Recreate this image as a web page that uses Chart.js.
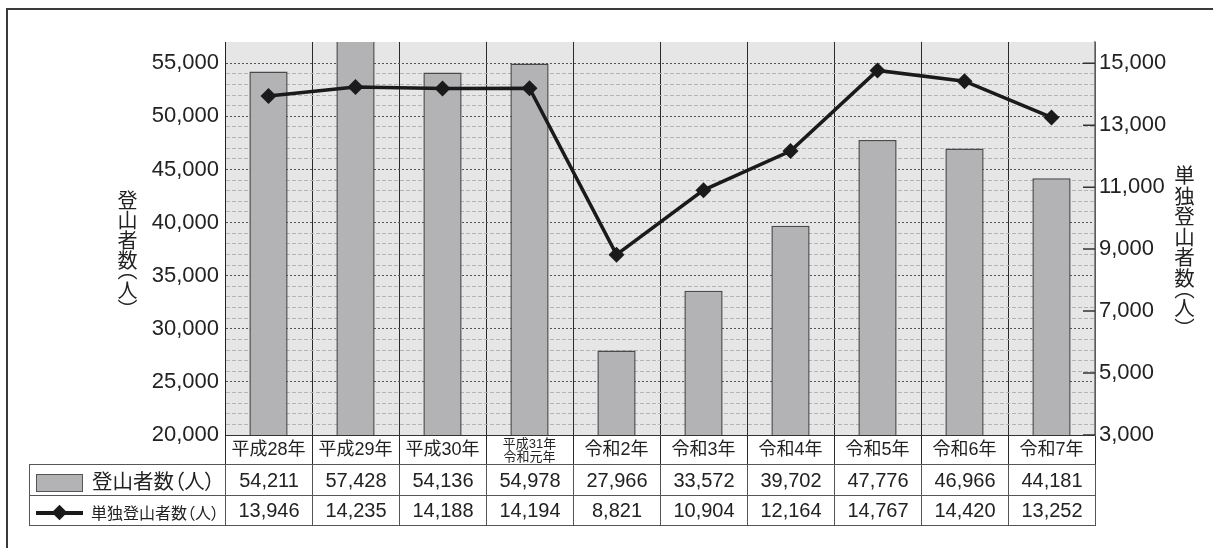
<!DOCTYPE html>
<html lang="ja">
<head>
<meta charset="utf-8">
<script src="https://cdn.jsdelivr.net/npm/chart.js@4/dist/chart.umd.min.js"></script>
<style>
  html, body { margin:0; padding:0; background:#fff; }
  #wrap { position:relative; width:1213px; height:548px; overflow:hidden; background:#fff; }
  #frame { position:absolute; left:6px; top:8px; width:1400px; height:700px; border-top:2px solid #3a3a3a; border-left:2px solid #3a3a3a; }
  #c { position:absolute; left:0; top:0; }
  .vt { position:absolute; writing-mode:vertical-rl; text-orientation:upright; font-family:"Noto Sans CJK JP"; font-size:20px; color:#222; line-height:1; font-feature-settings:"vpal"; white-space:nowrap; }
  #ltitle { left:117px; top:190px; }
  #rtitle { left:1174px; top:165px; font-size:20.5px; }
  #tbl { position:absolute; left:29px; top:464px; border-collapse:collapse; table-layout:fixed; }
  #tbl td { border:1px solid #555; padding:0; text-align:center; font-family:"Liberation Sans","Noto Sans CJK JP"; font-size:20px; color:#222; white-space:nowrap; overflow:hidden; }
  #tbl tr.r1 td { height:30px; }
  #tbl tr.r2 td { height:29px; }
  #tbl td.leg { text-align:left; padding-left:6px; font-family:"Noto Sans CJK JP"; font-feature-settings:"palt"; }
  .swbar { display:inline-block; width:45px; height:16px; background:#b3b3b5; border:1px solid #555; vertical-align:middle; margin-right:9px; position:relative; top:-1px; }
  .swline { display:inline-block; width:47px; height:16px; vertical-align:middle; margin-right:8px; position:relative; top:-1px; }
  .swline i { position:absolute; left:0; top:6.5px; width:47px; height:3.5px; background:#1a1a1a; }
  .swline b { position:absolute; left:18px; top:2.5px; width:11px; height:11px; background:#1a1a1a; transform:rotate(45deg); }
  .lt1 { font-size:20.5px; }
  .lt2 { font-size:16px; }
</style>
</head>
<body>
<div id="wrap">
  <div id="frame"></div>
  <canvas id="c" width="1213" height="548"></canvas>
  <div id="ltitle" class="vt"></div>
  <div id="rtitle" class="vt"></div>
  <table id="tbl"></table>
</div>
<script>
// ---- data ----
const categories = ['平成28年','平成29年','平成30年',['平成31年','令和元年'],'令和2年','令和3年','令和4年','令和5年','令和6年','令和7年'];
const climbers = [54211,57428,54136,54978,27966,33572,39702,47776,46966,44181];
const soloClimbers = [13946,14235,14188,14194,8821,10904,12164,14767,14420,13252];
const seriesNames = ['登山者数（人）','単独登山者数（人）'];
const leftAxisTitle = '登山者数（人）';
const rightAxisTitle = '単独登山者数（人）';
const leftRange = [20000, 57000];
const leftMajorStep = 5000;
const leftMinorStep = 1000;
const rightTickValues = [3000, 5000, 7000, 9000, 11000, 13000, 15000];
const rightRange = [3000, 3000 + (57000 - 20000) * 12000 / 35000];

const fmt = v => v.toLocaleString('en-US');

document.getElementById('ltitle').textContent = leftAxisTitle;
document.getElementById('rtitle').textContent = rightAxisTitle;

// ---- table ----
(function buildTable(){
  const t = document.getElementById('tbl');
  let html = '<colgroup><col style="width:196px">' + categories.map(()=>'<col style="width:87px">').join('') + '</colgroup>';
  html += '<tr class="r1"><td class="leg"><span class="swbar"></span><span class="lt1">' + seriesNames[0] + '</span></td>' +
          climbers.map(v=>'<td>'+fmt(v)+'</td>').join('') + '</tr>';
  html += '<tr class="r2"><td class="leg"><span class="swline"><i></i><b></b></span><span class="lt2">' + seriesNames[1] + '</span></td>' +
          soloClimbers.map(v=>'<td>'+fmt(v)+'</td>').join('') + '</tr>';
  t.innerHTML = html;
  t.style.width = (196 + 87 * categories.length) + 'px';
})();

const FAM = '"Liberation Sans", "Noto Sans CJK JP"';

const deco = {
  id: 'deco',
  beforeDraw(chart) {
    const {ctx, chartArea: a} = chart;
    ctx.save();
    ctx.fillStyle = '#e6e6e7';
    ctx.fillRect(a.left, a.top, a.right - a.left, a.bottom - a.top);
    ctx.restore();
  },
  afterDraw(chart) {
    const {ctx, chartArea: a} = chart;
    const s = chart.scales.y2;
    ctx.save();
    ctx.strokeStyle = '#333';
    ctx.lineWidth = 1.5;
    ctx.beginPath();
    s.ticks.forEach(t => {
      const y = s.getPixelForValue(t.value);
      ctx.moveTo(a.right - 12, y);
      ctx.lineTo(a.right, y);
    });
    ctx.stroke();
    ctx.restore();
  }
};

function draw() {
  new Chart(document.getElementById('c'), {
    data: {
      labels: categories,
      datasets: [
        {
          type: 'line',
          label: seriesNames[1],
          data: soloClimbers,
          yAxisID: 'y2',
          order: 0,
          borderColor: '#1a1a1a',
          borderWidth: 3.5,
          pointStyle: 'rectRot',
          pointRadius: 8,
          pointHoverRadius: 8,
          pointBackgroundColor: '#1a1a1a',
          pointBorderColor: '#1a1a1a',
          pointBorderWidth: 0,
          tension: 0,
          clip: false
        },
        {
          type: 'bar',
          label: seriesNames[0],
          data: climbers,
          yAxisID: 'y',
          order: 1,
          backgroundColor: '#b3b3b5',
          borderColor: '#4a4a4a',
          borderWidth: 1.5,
          barPercentage: 0.44,
          categoryPercentage: 1.0
        }
      ]
    },
    options: {
      responsive: false,
      animation: false,
      devicePixelRatio: 1,
      layout: { padding: { top: 42, left: 0, right: 0, bottom: 0 } },
      plugins: { legend: { display: false }, tooltip: { enabled: false } },
      scales: {
        x: {
          type: 'category',
          offset: true,
          afterFit(s) { s.height = 113; },
          grid: {
            offset: true,
            color: c => (c.index === categories.length ? '#888' : '#2a2a2a'),
            lineWidth: 1,
            drawTicks: true,
            tickLength: 29
          },
          border: { display: true, color: '#333', width: 1 },
          ticks: {
            autoSkip: false,
            maxRotation: 0,
            minRotation: 0,
            padding: -26.5,
            color: '#222',
            font: c => (Array.isArray(categories[c.index])
              ? { family: FAM, size: 13, lineHeight: 1.0 }
              : { family: FAM, size: 18, lineHeight: 1.4 })
          }
        },
        y: {
          type: 'linear',
          position: 'left',
          min: leftRange[0],
          max: leftRange[1],
          afterFit(s) { s.width = 225; },
          grid: {
            drawTicks: false,
            lineWidth: 1,
            color: c => {
              const v = c.tick ? c.tick.value : undefined;
              if (v === undefined || v <= leftRange[0] || v > 55000) return 'rgba(0,0,0,0)';
              return v % leftMajorStep === 0 ? '#555' : '#b4b4b4';
            }
          },
          border: {
            display: true,
            color: '#222',
            width: 1,
            dash: c => {
              if (!c.tick) return [];
              return c.tick.value % leftMajorStep === 0 ? [2, 2] : [4, 2];
            }
          },
          ticks: {
            autoSkip: false,
            stepSize: leftMinorStep,
            includeBounds: false,
            padding: 6,
            color: '#222',
            font: { family: FAM, size: 22 },
            callback: v => (v % leftMajorStep === 0 ? fmt(v) : '')
          }
        },
        y2: {
          type: 'linear',
          position: 'right',
          min: rightRange[0],
          max: rightRange[1],
          afterFit(s) { s.width = 118; },
          afterBuildTicks(s) { s.ticks = rightTickValues.map(value => ({ value })); },
          grid: { display: false, drawTicks: false, drawOnChartArea: false },
          border: { display: true, color: '#8a8a8a', width: 1.5 },
          ticks: {
            autoSkip: false,
            padding: 4,
            color: '#222',
            font: { family: FAM, size: 22 },
            callback: v => fmt(v)
          }
        }
      }
    },
    plugins: [deco]
  });
}

if (document.fonts && document.fonts.ready) {
  document.fonts.ready.then(draw);
} else {
  draw();
}
</script>
</body>
</html>
